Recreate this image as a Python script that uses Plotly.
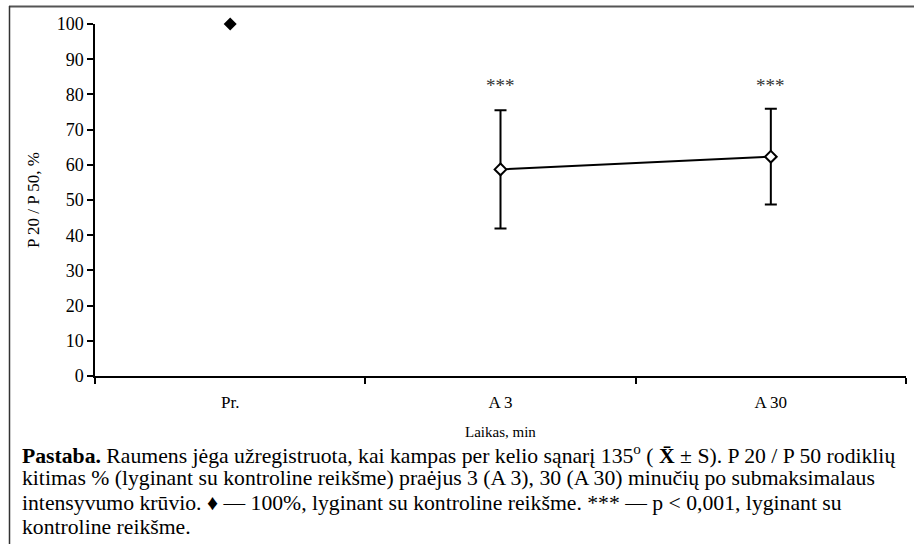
import plotly.graph_objects as go

W, H = 914, 544
L, R, T, B = 95, 8, 24, 168

categories = ["Pr.", "A 3", "A 30"]
control_value = [100]
means = [58.7, 62.3]
sd = [16.8, 13.6]
stars = ["***", "***"]
y_ticks = [0, 10, 20, 30, 40, 50, 60, 70, 80, 90, 100]

caption_lines = [
    "<b>Pastaba.</b> Raumens jėga užregistruota, kai kampas per kelio sąnarį 135<sup>o</sup> ( <b>X̄</b> ± S). P 20 / P 50 rodiklių",
    "kitimas % (lyginant su kontroline reikšme) praėjus 3 (A 3), 30 (A 30) minučių po submaksimalaus",
    "intensyvumo krūvio. ♦ — 100%, lyginant su kontroline reikšme. *** — p < 0,001, lyginant su",
    "kontroline reikšme.",
]

pw, ph = W - L - R, H - T - B
def px(x):
    return (x - L) / pw
def py(y):
    return (H - B - y) / ph

FONT = "Times New Roman, Liberation Serif, Tinos, DejaVu Serif, serif"

fig = go.Figure()
fig.add_trace(go.Scatter(
    x=categories[:1], y=control_value, mode="markers",
    marker=dict(symbol="diamond", size=10, color="black"),
    cliponaxis=False, showlegend=False))
fig.add_trace(go.Scatter(
    x=categories[1:], y=means, mode="lines+markers",
    line=dict(color="black", width=2),
    marker=dict(symbol="diamond", size=9, color="white", line=dict(color="black", width=2)),
    error_y=dict(type="data", array=sd, color="black", thickness=2, width=6),
    cliponaxis=False, showlegend=False))

for c, s in zip(categories[1:], stars):
    fig.add_annotation(x=c, y=82.5, text=s, showarrow=False, yanchor="middle",
                       font=dict(family=FONT, size=19, color="#333"))

fig.update_xaxes(type="category", range=[-0.5, 2.5], tickson="boundaries",
                 ticks="outside", ticklen=6, tickwidth=1.5, tickcolor="black",
                 showline=True, linecolor="black", linewidth=1.5, showgrid=False,
                 zeroline=False, tickfont=dict(family=FONT, size=17, color="black"),
                 ticklabelstandoff=10)
fig.update_yaxes(range=[0, 100], tickvals=y_ticks, ticks="outside", ticklen=6,
                 tickwidth=1.5, tickcolor="black", showline=True, linecolor="black",
                 linewidth=1.5, showgrid=False, zeroline=False,
                 tickfont=dict(family=FONT, size=18, color="black"))

fig.add_annotation(xref="paper", yref="paper", x=px(500), y=py(432),
                   xanchor="center", yanchor="middle",
                   text="Laikas, min", showarrow=False,
                   font=dict(family=FONT, size=15, color="black"))
fig.add_annotation(xref="paper", yref="paper", x=px(33), y=py(200),
                   xanchor="center", yanchor="middle",
                   text="P 20 / P 50, %", textangle=-90, showarrow=False,
                   font=dict(family=FONT, size=17, color="black"))

for i, line in enumerate(caption_lines):
    fig.add_annotation(xref="paper", yref="paper", x=px(20), y=py(454 + 24.4 * i),
                       xanchor="left", yanchor="middle", text=line, showarrow=False,
                       font=dict(family=FONT, size=21.7, color="black"))

fig.add_shape(type="line", xref="paper", yref="paper", x0=px(9), x1=px(914),
              y0=py(6.5), y1=py(6.5), line=dict(color="#555", width=2))
fig.add_shape(type="line", xref="paper", yref="paper", x0=px(9.5), x1=px(9.5),
              y0=py(6), y1=py(544), line=dict(color="#333", width=1.5))

fig.update_layout(width=W, height=H, margin=dict(l=L, r=R, t=T, b=B),
                  paper_bgcolor="white", plot_bgcolor="white",
                  font=dict(family=FONT, color="black"))
fig.write_html("out.html", config={"displayModeBar": False},
               post_script="document.body.style.margin='0';document.body.style.overflow='hidden';")
